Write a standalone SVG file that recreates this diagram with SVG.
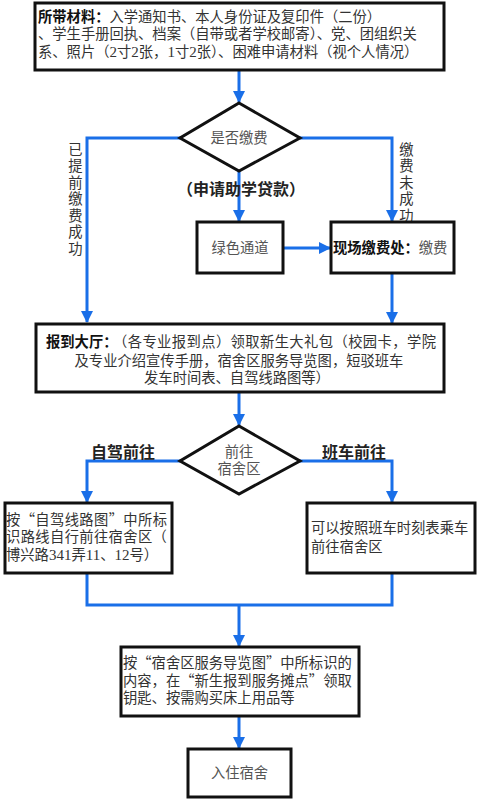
<svg xmlns="http://www.w3.org/2000/svg" width="479" height="800" viewBox="0 0 479 800">
<style>
text{font-family:"Liberation Serif","Noto Sans CJK SC",serif;font-size:14.3px;fill:#333}
.q{font-family:"Noto Sans CJK SC",sans-serif}
.g{fill:#555}
.b{font-weight:bold;fill:#111}
.lbl{font-weight:bold;font-size:16px;fill:#222}
.d{font-size:15px}
.box{fill:#fff;stroke:#111;stroke-width:3}
.c{fill:none;stroke:#1a6fe8;stroke-width:3}
.m{text-anchor:middle}
.v{writing-mode:vertical-rl;letter-spacing:2.2px}
</style>
<defs>
<marker id="ah" markerUnits="userSpaceOnUse" markerWidth="12" markerHeight="12" refX="11" refY="6" orient="auto">
<path d="M0,0 L12,6 L0,12 z" fill="#1a6fe8"/>
</marker>
</defs>
<rect width="479" height="800" fill="#fff"/>
<g id="connectors">
<path class="c" d="M239,71 V102" marker-end="url(#ah)"/>
<path class="c" d="M180,138 H87 V322" marker-end="url(#ah)"/>
<path class="c" d="M300,138 H392 V221" marker-end="url(#ah)"/>
<path class="c" d="M239,171 V221" marker-end="url(#ah)"/>
<path class="c" d="M283,248 H330" marker-end="url(#ah)"/>
<path class="c" d="M392,273 V323" marker-end="url(#ah)"/>
<path class="c" d="M239,392 V425" marker-end="url(#ah)"/>
<path class="c" d="M180,461 H87 V502" marker-end="url(#ah)"/>
<path class="c" d="M300,461 H392 V502" marker-end="url(#ah)"/>
<path class="c" d="M87,573 V605 H392 V573"/>
<path class="c" d="M239,605 V646" marker-end="url(#ah)"/>
<path class="c" d="M239,716 V748" marker-end="url(#ah)"/>
</g>
<g id="labels">
<text class="lbl m" x="241" y="195">（申请助学贷款）</text>
<text class="lbl" x="91" y="458">自驾前往</text>
<text class="lbl" x="322" y="458">班车前往</text>
<text class="v" x="74" y="142">已提前缴费成功</text>
<text class="v" x="405" y="142">缴费未成功</text>
</g>
<g id="materials">
<rect class="box" x="35" y="3" width="409" height="67"/>
<text><tspan x="38" y="21.5"><tspan class="b">所带材料：</tspan>入学通知书、本人身份证及复印件（二份）</tspan><tspan x="38" y="39">、学生手册回执、档案（自带或者学校邮寄）、党、团组织关</tspan><tspan x="38" y="57">系、照片（<tspan class="d">2</tspan>寸<tspan class="d">2</tspan>张，<tspan class="d">1</tspan>寸<tspan class="d">2</tspan>张）、困难申请材料（视个人情况）</tspan></text>
</g>
<g id="decision-pay">
<polygon class="box" points="239,103 300,138 239,171 180,138"/>
<text class="g m" x="239" y="143">是否缴费</text>
</g>
<g id="green-channel">
<rect class="box" x="197" y="222" width="86" height="51"/>
<text class="g m" x="240" y="253">绿色通道</text>
</g>
<g id="pay-onsite">
<rect class="box" x="331" y="222" width="123" height="51"/>
<text x="333" y="253"><tspan class="b">现场缴费处：</tspan><tspan class="g">缴费</tspan></text>
</g>
<g id="hall">
<rect class="box" x="36" y="324" width="408" height="68"/>
<text><tspan class="b" x="46" y="347">报到大厅：</tspan><tspan x="113" y="347" letter-spacing="0.4">（各专业报到点）领取新生大礼包（校园卡，学院</tspan><tspan class="m" x="239" y="366">及专业介绍宣传手册，宿舍区服务导览图，短驳班车</tspan><tspan class="m" x="237" y="383">发车时间表、自驾线路图等）</tspan></text>
</g>
<g id="decision-dorm">
<polygon class="box" points="239,426 300,461 239,494 180,461"/>
<text class="g m"><tspan x="239" y="457">前往</tspan><tspan x="239" y="474">宿舍区</tspan></text>
</g>
<g id="self-drive">
<rect class="box" x="5" y="503" width="167" height="70"/>
<text><tspan x="6" y="524.5" letter-spacing="0.36">按<tspan class="q">“</tspan>自驾线路图<tspan class="q">”</tspan>中所标</tspan><tspan x="6" y="541.5" letter-spacing="0.36">识路线自行前往宿舍区（</tspan><tspan x="6" y="559.5">博兴路<tspan class="d">341</tspan>弄<tspan class="d">11</tspan>、<tspan class="d">12</tspan>号）</tspan></text>
</g>
<g id="shuttle">
<rect class="box" x="307" y="503" width="168" height="70"/>
<text><tspan x="311" y="533">可以按照班车时刻表乘车</tspan><tspan x="311" y="552">前往宿舍区</tspan></text>
</g>
<g id="keys">
<rect class="box" x="121" y="647" width="238" height="69"/>
<text><tspan x="123" y="668">按<tspan class="q">“</tspan>宿舍区服务导览图<tspan class="q">”</tspan>中所标识的</tspan><tspan x="123" y="686">内容，在<tspan class="q">“</tspan>新生报到服务摊点<tspan class="q">”</tspan>领取</tspan><tspan x="123" y="703">钥匙、按需购买床上用品等</tspan></text>
</g>
<g id="move-in">
<rect class="box" x="188" y="749" width="103" height="48"/>
<text class="g m" x="239.5" y="778">入住宿舍</text>
</g>
</svg>
